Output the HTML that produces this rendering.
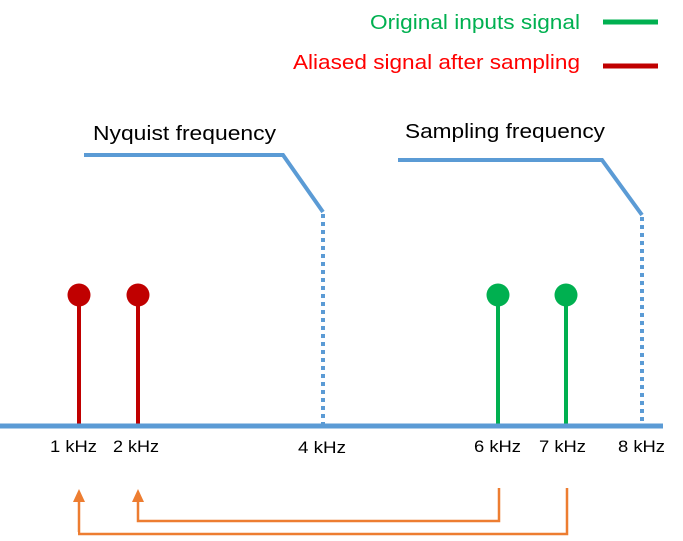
<!DOCTYPE html>
<html><head><style>
body{margin:0;background:#fff;}
svg text{font-family:"Liberation Sans",sans-serif;}
</style></head><body>
<svg width="683" height="536" viewBox="0 0 683 536" xmlns="http://www.w3.org/2000/svg">
<text x="370" y="29" font-size="20" fill="#00B050" textLength="210" lengthAdjust="spacingAndGlyphs">Original inputs signal</text>
<line x1="603" y1="22" x2="658" y2="22" stroke="#00B050" stroke-width="5"/>
<text x="293" y="69" font-size="20" fill="#FF0000" textLength="287" lengthAdjust="spacingAndGlyphs">Aliased signal after sampling</text>
<line x1="603" y1="66" x2="658" y2="66" stroke="#C00000" stroke-width="5"/>
<text x="93" y="140" font-size="20" fill="#000" textLength="183" lengthAdjust="spacingAndGlyphs">Nyquist frequency</text>
<text x="405" y="138" font-size="20" fill="#000" textLength="200" lengthAdjust="spacingAndGlyphs">Sampling frequency</text>
<polyline points="84,155 283,155 323,212" fill="none" stroke="#5B9BD5" stroke-width="4"/>
<line x1="323" y1="214" x2="323" y2="425" stroke="#5B9BD5" stroke-width="4" stroke-dasharray="4,4"/>
<polyline points="398,160 602,160 642,215" fill="none" stroke="#5B9BD5" stroke-width="4"/>
<line x1="642" y1="217" x2="642" y2="425" stroke="#5B9BD5" stroke-width="4" stroke-dasharray="4,4"/>
<line x1="79" y1="295" x2="79" y2="425" stroke="#C00000" stroke-width="4"/>
<circle cx="79" cy="295" r="11.5" fill="#C00000"/>
<line x1="138" y1="295" x2="138" y2="425" stroke="#C00000" stroke-width="4"/>
<circle cx="138" cy="295" r="11.5" fill="#C00000"/>
<line x1="498" y1="295" x2="498" y2="425" stroke="#00B050" stroke-width="4"/>
<circle cx="498" cy="295" r="11.5" fill="#00B050"/>
<line x1="566" y1="295" x2="566" y2="425" stroke="#00B050" stroke-width="4"/>
<circle cx="566" cy="295" r="11.5" fill="#00B050"/>
<line x1="0" y1="426" x2="663" y2="426" stroke="#5B9BD5" stroke-width="5"/>
<g font-size="17" fill="#000">
<text x="50" y="452" textLength="47" lengthAdjust="spacingAndGlyphs">1 kHz</text>
<text x="113" y="452" textLength="46" lengthAdjust="spacingAndGlyphs">2 kHz</text>
<text x="298" y="453" textLength="48" lengthAdjust="spacingAndGlyphs">4 kHz</text>
<text x="474" y="452" textLength="47" lengthAdjust="spacingAndGlyphs">6 kHz</text>
<text x="539" y="452" textLength="47" lengthAdjust="spacingAndGlyphs">7 kHz</text>
<text x="618" y="452" textLength="47" lengthAdjust="spacingAndGlyphs">8 kHz</text>
</g>
<polyline points="567,488 567,534 60,534" fill="none" stroke="#ED7D31" stroke-width="2.5"/>
<polyline points="499,488 499,521 138,521 138,500" fill="none" stroke="#ED7D31" stroke-width="2.5"/>
<line x1="79" y1="534" x2="79" y2="500" stroke="#ED7D31" stroke-width="2.5"/>
<polygon points="79,489 73,502 85,502" fill="#ED7D31"/>
<polygon points="138,489 132,502 144,502" fill="#ED7D31"/>
<rect x="0" y="532" width="78" height="4" fill="#fff"/>
</svg>
</body></html>
